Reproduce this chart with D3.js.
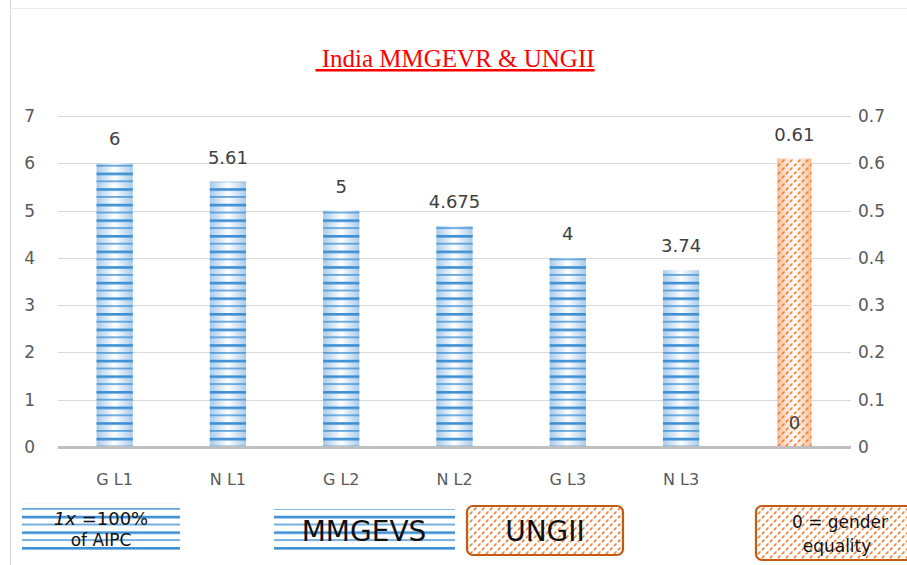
<!DOCTYPE html>
<html>
<head>
<meta charset="utf-8">
<script src="https://cdn.jsdelivr.net/npm/d3@7"></script>
<style>
  body { margin: 0; background: #fff; }
  svg text { font-family: "DejaVu Sans", Verdana, sans-serif; }
</style>
</head>
<body>
<div id="chart"></div>
<script>
var w = 907;
var h = 565;

// data
var categories = ['G L1', 'N L1', 'G L2', 'N L2', 'G L3', 'N L3', ''];
var mmgevs = [6, 5.61, 5, 4.675, 4, 3.74, null];
var mmgevsLabels = ['6', '5.61', '5', '4.675', '4', '3.74', ''];
var ungii = [null, null, null, null, null, null, 0.61];
var leftTicks = [0, 1, 2, 3, 4, 5, 6, 7];
var rightTicks = [0, 0.1, 0.2, 0.3, 0.4, 0.5, 0.6, 0.7];

var svg = d3.select('#chart')
            .append('svg')
            .attr('width', w)
            .attr('height', h);

var defs = svg.append('defs');

// blue gradient + stripes
var gb = defs.append('linearGradient').attr('id', 'gBlue')
             .attr('x1', 0).attr('x2', 1).attr('y1', 0).attr('y2', 0);
gb.append('stop').attr('offset', '0%').attr('stop-color', '#a9cbea');
gb.append('stop').attr('offset', '50%').attr('stop-color', '#ffffff');
gb.append('stop').attr('offset', '100%').attr('stop-color', '#a9cbea');

var pb = defs.append('pattern').attr('id', 'pBlue')
             .attr('patternUnits', 'userSpaceOnUse')
             .attr('width', 10).attr('height', 15.6);
pb.append('rect').attr('x', 0).attr('y', 1).attr('width', 10).attr('height', 2.6).attr('fill', '#3b8fd4');
pb.append('rect').attr('x', 0).attr('y', 9).attr('width', 10).attr('height', 1.4).attr('fill', '#3b8fd4');

// orange gradient + hatch
var go = defs.append('linearGradient').attr('id', 'gOrange')
             .attr('x1', 0).attr('x2', 1).attr('y1', 0).attr('y2', 0);
go.append('stop').attr('offset', '0%').attr('stop-color', '#f7bf97');
go.append('stop').attr('offset', '50%').attr('stop-color', '#ffffff');
go.append('stop').attr('offset', '100%').attr('stop-color', '#f7bf97');

var po = defs.append('pattern').attr('id', 'pOrange')
             .attr('patternUnits', 'userSpaceOnUse')
             .attr('width', 8).attr('height', 8);
po.append('path').attr('d', 'M-2,10 L10,-2 M-6,6 L6,-6 M2,14 L14,2')
  .attr('stroke', '#ed7d31').attr('stroke-width', 1.5)
  .attr('stroke-dasharray', '3.5,2');

// frame
svg.append('line').attr('x1', 10.5).attr('x2', 10.5).attr('y1', 0).attr('y2', h)
   .attr('stroke', '#d9d9d9');
svg.append('line').attr('x1', 10).attr('x2', w).attr('y1', 8.5).attr('y2', 8.5)
   .attr('stroke', '#ececec');

// title
svg.append('text')
   .attr('x', 455).attr('y', 67)
   .attr('text-anchor', 'middle')
   .style('font-family', '"Liberation Serif", "Times New Roman", serif')
   .style('font-size', '25px')
   .style('fill', '#ff0000')
   .style('text-decoration', 'underline')
   .text('\u00a0India MMGEVR & UNGII');

var x = d3.scaleBand()
          .domain(d3.range(categories.length))
          .range([58, 851])
          .paddingInner(0.68)
          .paddingOuter(0.34);

var yL = d3.scaleLinear().domain([0, 7]).range([447, 116]);
var yR = d3.scaleLinear().domain([0, 0.7]).range([447, 116]);

// gridlines
svg.append('g').selectAll('line')
   .data(leftTicks.slice(1))
   .enter().append('line')
   .attr('x1', 58).attr('x2', 851)
   .attr('y1', function(d){ return Math.round(yL(d)) + 0.5; })
   .attr('y2', function(d){ return Math.round(yL(d)) + 0.5; })
   .attr('stroke', '#d9d9d9');

// left axis
var axL = svg.append('g').attr('transform', 'translate(44,0)')
   .call(d3.axisLeft(yL).tickValues(leftTicks).tickSize(0).tickFormat(d3.format('d')));
axL.select('.domain').remove();
axL.selectAll('text').style('font-size', '17px').style('fill', '#595959').attr('dx', '-6');

// right axis
var axR = svg.append('g').attr('transform', 'translate(853,0)')
   .call(d3.axisRight(yR).tickValues(rightTicks).tickSize(0).tickFormat(function(d){ return d === 0 ? '0' : d3.format('.1f')(d); }));
axR.select('.domain').remove();
axR.selectAll('text').style('font-size', '17px').style('fill', '#595959').attr('dx', '2');

// bars - MMGEVS
var bars = svg.append('g');
var bdata = mmgevs.map(function(v, i){ return {i: i, v: v}; }).filter(function(d){ return d.v !== null; });
['url(#gBlue)', 'url(#pBlue)'].forEach(function(f){
    bars.append('g').selectAll('rect')
        .data(bdata).enter().append('rect')
        .attr('x', function(d){ return x(d.i); })
        .attr('width', x.bandwidth())
        .attr('y', function(d){ return yL(d.v); })
        .attr('height', function(d){ return yL(0) - yL(d.v); })
        .attr('fill', f);
});

// bar - UNGII
var odata = ungii.map(function(v, i){ return {i: i, v: v}; }).filter(function(d){ return d.v !== null; });
['url(#gOrange)', 'url(#pOrange)'].forEach(function(f){
    bars.append('g').selectAll('rect')
        .data(odata).enter().append('rect')
        .attr('x', function(d){ return x(d.i) + 1; })
        .attr('width', x.bandwidth() - 2)
        .attr('y', function(d){ return yR(d.v); })
        .attr('height', function(d){ return yR(0) - yR(d.v); })
        .attr('fill', f);
});

// baseline
svg.append('line').attr('x1', 58).attr('x2', 851).attr('y1', 447.5).attr('y2', 447.5)
   .attr('stroke', '#bfbfbf').attr('stroke-width', 3);

// data labels
svg.append('g').selectAll('text')
   .data(bdata).enter().append('text')
   .attr('x', function(d){ return x(d.i) + x.bandwidth() / 2; })
   .attr('y', function(d){ return yL(d.v) - 18; })
   .attr('text-anchor', 'middle')
   .style('font-size', '18px').style('fill', '#404040')
   .text(function(d){ return mmgevsLabels[d.i]; });

svg.append('g').selectAll('text')
   .data(odata).enter().append('text')
   .attr('x', function(d){ return x(d.i) + x.bandwidth() / 2; })
   .attr('y', function(d){ return yR(d.v) - 18; })
   .attr('text-anchor', 'middle')
   .style('font-size', '18px').style('fill', '#404040')
   .text(function(d){ return d.v; });

svg.append('g').selectAll('text')
   .data(odata).enter().append('text')
   .attr('x', function(d){ return x(d.i) + x.bandwidth() / 2; })
   .attr('y', 429)
   .attr('text-anchor', 'middle')
   .style('font-size', '18px').style('fill', '#404040')
   .text('0');

// category labels
svg.append('g').selectAll('text')
   .data(categories).enter().append('text')
   .attr('x', function(d, i){ return x(i) + x.bandwidth() / 2; })
   .attr('y', 485)
   .attr('text-anchor', 'middle')
   .style('font-size', '16px').style('fill', '#595959')
   .text(function(d){ return d; });

// legend-like boxes
function stripeBox(x0, y0, bw, bh){
    var g = svg.append('g');
    g.append('rect').attr('x', x0).attr('y', y0).attr('width', bw).attr('height', bh)
     .attr('fill', 'url(#pBlue)');
    return g;
}
var b1 = stripeBox(22, 503, 158, 48);
b1.append('text').attr('x', 101).attr('y', 525).attr('text-anchor', 'middle')
  .style('font-size', '18px').style('fill', '#111')
  .html('<tspan font-style="italic">1x</tspan> =100%');
b1.append('text').attr('x', 101).attr('y', 546).attr('text-anchor', 'middle')
  .style('font-size', '17px').style('fill', '#111').text('of AIPC');

var b2 = stripeBox(274, 509, 181, 42);
b2.append('text').attr('x', 364).attr('y', 541).attr('text-anchor', 'middle')
  .style('font-size', '28px').style('fill', '#111').text('MMGEVS');

function hatchBox(x0, y0, bw, bh){
    var g = svg.append('g');
    g.append('rect').attr('x', x0).attr('y', y0).attr('width', bw).attr('height', bh)
     .attr('rx', 6).attr('fill', '#fff');
    g.append('rect').attr('x', x0).attr('y', y0).attr('width', bw).attr('height', bh)
     .attr('rx', 6).attr('fill', 'url(#pOrange)')
     .attr('stroke', '#c55a11').attr('stroke-width', 2.2);
    return g;
}
var b3 = hatchBox(467, 506, 156, 49);
b3.append('text').attr('x', 545).attr('y', 541).attr('text-anchor', 'middle')
  .style('font-size', '28px').style('fill', '#111').text('UNGII');

var b4 = hatchBox(756, 506, 170, 54);
b4.append('text').attr('x', 840).attr('y', 528).attr('text-anchor', 'middle')
  .style('font-size', '17px').style('fill', '#111').text('0 = gender');
b4.append('text').attr('x', 837).attr('y', 552).attr('text-anchor', 'middle')
  .style('font-size', '17px').style('fill', '#111').text('equality');
</script>
</body>
</html>
